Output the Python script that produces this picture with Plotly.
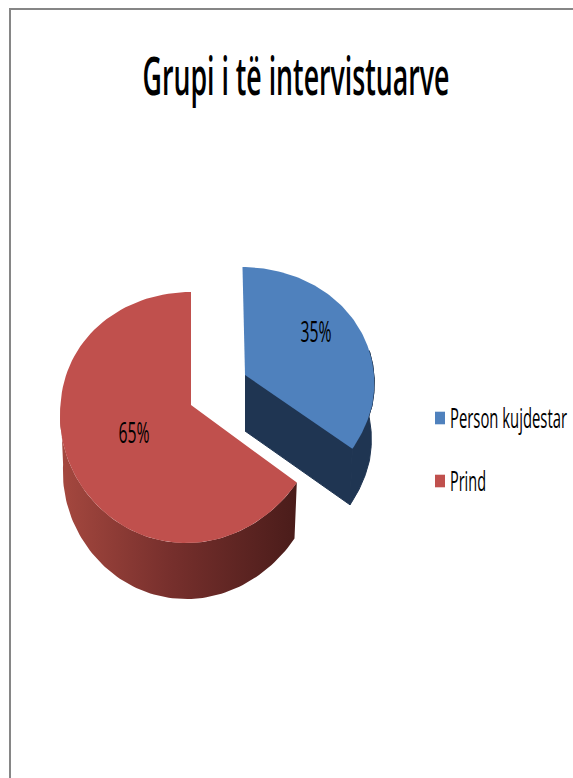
import json
import numpy as np
import plotly.graph_objects as go

# ---- data ----
categories = ["Person kujdestar", "Prind"]
values = [35, 65]
title_text = "Grupi i të intervistuarve"
top_colors = ["#4F81BD", "#C0504D"]
blue_wall = "#1F3552"
red_wall_scale = [[0, "#A5483F"], [0.45, "#78302D"], [1, "#4A1C1A"]]
label_font = "Open Sans"
pct_labels = [f"{v}%" for v in values]
# rendered widths of the condensed texts
text_widths = {title_text: 307, categories[0]: 117, categories[1]: 36,
               pct_labels[0]: 31, pct_labels[1]: 31}

# ---- projection of the 3-D pie ----
CX, CY = 191.0, 405.0       # centre of the un-exploded pie on the axes
AX, BY = 130.5, 124.3       # horizontal / vertical radius
K = 0.0996                  # perspective
SKEW = 5.0
DEPTH = 56.0
SHRINK = 0.978
BLUE_OFFSET = (0.4190, 0.2473)


def project(u, v):
    x = CX + AX * u / (1 + 0.5 * K * v) + SKEW * np.minimum(v, 0)
    y = CY - BY * v / (1 + K * v)
    return x, y


def arc(start, end, off, n=90):
    t = np.radians(np.linspace(start, end, n))
    return project(off[0] + np.sin(t), off[1] + np.cos(t))


def lower(x, y, off):
    ax, _ = project(np.array(off[0]), np.array(off[1]))
    return ax + SHRINK * (x - ax), y + DEPTH


total = sum(values)
split = 360.0 * values[0] / total
BLUE_WALL_FROM = 78.0
LEFT_EDGE = 270.0
red_off = (0.0, 0.0)

fig = go.Figure()

# red wall
rx, ry = arc(split, LEFT_EDGE, red_off)
bx, by = lower(rx, ry, red_off)
fig.add_trace(go.Scatter(
    x=np.concatenate([rx, bx[::-1]]), y=np.concatenate([ry, by[::-1]]),
    mode="lines", line=dict(width=0), fill="toself",
    fillgradient=dict(type="horizontal", colorscale=red_wall_scale),
    hoverinfo="skip", showlegend=False))

# red top
rx, ry = arc(split, 360, red_off)
ax0, ay0 = project(np.array(0.0), np.array(0.0))
fig.add_trace(go.Scatter(
    x=np.concatenate([[ax0], rx, [ax0]]), y=np.concatenate([[ay0], ry, [ay0]]),
    mode="lines", line=dict(width=0), fill="toself", fillcolor=top_colors[1],
    hoverinfo="skip", showlegend=False))

# blue outer wall + cut face
wx, wy = arc(BLUE_WALL_FROM, split, BLUE_OFFSET)
wbx, wby = lower(wx, wy, BLUE_OFFSET)
apx, apy = project(np.array(BLUE_OFFSET[0]), np.array(BLUE_OFFSET[1]))
abx, aby = lower(apx, apy, BLUE_OFFSET)
fig.add_trace(go.Scatter(
    x=np.concatenate([[apx], wx, [wbx[-1]], [abx]]),
    y=np.concatenate([[apy], wy, [wby[-1]], [aby]]),
    mode="lines", line=dict(width=1, color=blue_wall), fill="toself", fillcolor=blue_wall,
    hoverinfo="skip", showlegend=False))
fig.add_trace(go.Scatter(
    x=np.concatenate([wx, wbx[::-1]]), y=np.concatenate([wy, wby[::-1]]),
    mode="lines", line=dict(width=1, color=blue_wall), fill="toself", fillcolor=blue_wall,
    hoverinfo="skip", showlegend=False))

# blue top
tx, ty = arc(0, split, BLUE_OFFSET)
fig.add_trace(go.Scatter(
    x=np.concatenate([[apx], tx, [apx]]), y=np.concatenate([[apy], ty, [apy]]),
    mode="lines", line=dict(width=0), fill="toself", fillcolor=top_colors[0],
    hoverinfo="skip", showlegend=False))

# percentage labels
fig.add_trace(go.Scatter(
    x=[316, 134], y=[334, 435], mode="text",
    text=pct_labels,
    textfont=dict(family=label_font, size=30, color="#000000"),
    hoverinfo="skip", showlegend=False))

# legend keys and texts
fig.add_trace(go.Scatter(
    x=[440, 440], y=[418, 481], mode="markers",
    marker=dict(symbol="line-ns-open", size=9, color=top_colors,
                line=dict(width=10)),
    hoverinfo="skip", showlegend=False))
fig.add_trace(go.Scatter(
    x=[450, 450], y=[421, 484], mode="text",
    text=categories, textposition="middle right",
    textfont=dict(family=label_font, size=28, color="#000000"),
    hoverinfo="skip", showlegend=False))

fig.update_layout(
    width=573, height=778, margin=dict(l=0, r=0, t=0, b=0),
    paper_bgcolor="#FFFFFF", plot_bgcolor="#FFFFFF", showlegend=False,
    title=dict(text=title_text, x=296 / 573, xanchor="center",
               y=1 - 76 / 778, yanchor="middle",
               font=dict(family=label_font, size=53, color="#000000", weight=600)),
    xaxis=dict(range=[0, 573], visible=False, fixedrange=True),
    yaxis=dict(range=[778, 0], visible=False, fixedrange=True),
    shapes=[dict(type="rect", xref="x", yref="y", x0=10, y0=9, x1=700, y1=900,
                 line=dict(color="#868686", width=2), layer="below")],
)

post = """
document.body.style.margin='0';document.body.style.overflow='hidden';
var w = %s;
document.querySelectorAll('svg text').forEach(function(t){
  var n = w[t.textContent];
  if (n) { t.setAttribute('textLength', n); t.setAttribute('lengthAdjust', 'spacingAndGlyphs'); }
});
""" % json.dumps(text_widths, ensure_ascii=False)

fig.write_html("out.html", post_script=post, config={"displayModeBar": False})
